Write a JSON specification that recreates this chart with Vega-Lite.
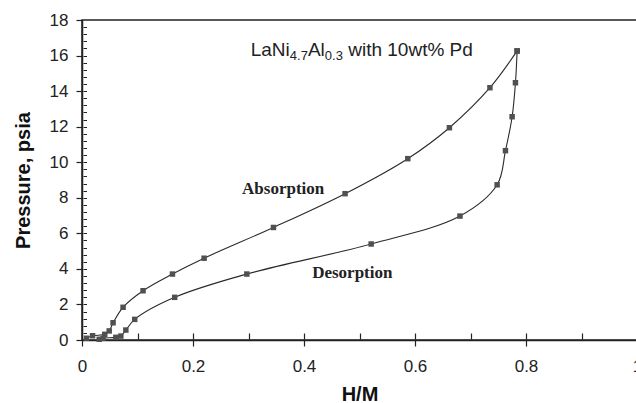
{
  "$schema": "https://vega.github.io/schema/vega-lite/v6.json",
  "width": 555,
  "height": 320,
  "autosize": "none",
  "padding": {"left": 82, "top": 20, "right": 0, "bottom": 63},
  "background": "white",
  "config": {
    "font": "Liberation Sans",
    "view": {"stroke": "#222", "strokeWidth": 1.5}
  },
  "datasets": {
    "curves": [
      {"series": "Absorption", "step": 1, "hm": 0.008, "p": 0.10},
      {"series": "Absorption", "step": 2, "hm": 0.019, "p": 0.24},
      {"series": "Absorption", "step": 3, "hm": 0.041, "p": 0.32},
      {"series": "Absorption", "step": 4, "hm": 0.049, "p": 0.51},
      {"series": "Absorption", "step": 5, "hm": 0.056, "p": 0.97},
      {"series": "Absorption", "step": 6, "hm": 0.074, "p": 1.84},
      {"series": "Absorption", "step": 7, "hm": 0.110, "p": 2.77},
      {"series": "Absorption", "step": 8, "hm": 0.163, "p": 3.71},
      {"series": "Absorption", "step": 9, "hm": 0.220, "p": 4.60},
      {"series": "Absorption", "step": 10, "hm": 0.345, "p": 6.33},
      {"series": "Absorption", "step": 11, "hm": 0.474, "p": 8.23},
      {"series": "Absorption", "step": 12, "hm": 0.587, "p": 10.20},
      {"series": "Absorption", "step": 13, "hm": 0.662, "p": 11.94},
      {"series": "Absorption", "step": 14, "hm": 0.735, "p": 14.19},
      {"series": "Absorption", "step": 15, "hm": 0.784, "p": 16.26},
      {"series": "Desorption", "step": 1, "hm": 0.784, "p": 16.26},
      {"series": "Desorption", "step": 2, "hm": 0.781, "p": 14.47},
      {"series": "Desorption", "step": 3, "hm": 0.775, "p": 12.56},
      {"series": "Desorption", "step": 4, "hm": 0.763, "p": 10.65},
      {"series": "Desorption", "step": 5, "hm": 0.748, "p": 8.73},
      {"series": "Desorption", "step": 6, "hm": 0.681, "p": 6.97},
      {"series": "Desorption", "step": 7, "hm": 0.521, "p": 5.40},
      {"series": "Desorption", "step": 8, "hm": 0.297, "p": 3.71},
      {"series": "Desorption", "step": 9, "hm": 0.167, "p": 2.40},
      {"series": "Desorption", "step": 10, "hm": 0.095, "p": 1.16},
      {"series": "Desorption", "step": 11, "hm": 0.079, "p": 0.56},
      {"series": "Desorption", "step": 12, "hm": 0.070, "p": 0.22},
      {"series": "Desorption", "step": 13, "hm": 0.061, "p": 0.15},
      {"series": "Desorption", "step": 14, "hm": 0.038, "p": 0.10},
      {"series": "Desorption", "step": 15, "hm": 0.031, "p": 0.04}
    ],
    "labels": [
      {"label": "Absorption", "hm": 0.3625, "p": 8.24},
      {"label": "Desorption", "hm": 0.487, "p": 3.46}
    ],
    "caption": [
      {"hm": 0.304, "p": 16.0}
    ]
  },
  "layer": [
    {
      "data": {"name": "curves"},
      "mark": {"type": "line", "interpolate": "catmull-rom", "stroke": "#2a2a2a", "strokeWidth": 1.1},
      "encoding": {
        "x": {
          "field": "hm", "type": "quantitative",
          "scale": {"domain": [0, 1], "nice": false, "zero": false},
          "axis": {
            "orient": "bottom",
            "title": "H/M",
            "titleFontSize": 20, "titleFontWeight": "bold", "titleColor": "#111",
            "titlePadding": 10,
            "values": [0, 0.2, 0.4, 0.6, 0.8, 1],
            "format": "~g",
            "labelFontSize": 17, "labelColor": "#222", "labelPadding": 12,
            "labelFlush": false, "labelOverlap": false,
            "tickSize": 6, "tickColor": "#222", "tickWidth": 1.2,
            "domainColor": "#222", "domainWidth": 1.5,
            "grid": false
          }
        },
        "y": {
          "field": "p", "type": "quantitative",
          "scale": {"domain": [0, 18], "nice": false, "zero": false},
          "axis": {
            "orient": "left",
            "title": "Pressure, psia",
            "titleFontSize": 20, "titleFontWeight": "bold", "titleColor": "#111",
            "titlePadding": 16,
            "values": [0, 2, 4, 6, 8, 10, 12, 14, 16, 18],
            "format": "d",
            "labelFontSize": 17, "labelColor": "#222", "labelPadding": 8,
            "labelFlush": false, "labelOverlap": false,
            "tickSize": 6, "tickColor": "#222", "tickWidth": 1.2,
            "domainColor": "#222", "domainWidth": 1.5,
            "grid": false
          }
        },
        "detail": {"field": "series", "type": "nominal"},
        "order": {"field": "step", "type": "quantitative"}
      }
    },
    {
      "data": {"name": "curves"},
      "mark": {"type": "point", "opacity": 0},
      "encoding": {
        "x": {
          "field": "hm", "type": "quantitative",
          "axis": {
            "orient": "top", "offset": -319, "title": "H/M", "titleColor": "white", "titleFontSize": 1,
            "labels": true, "labelColor": "white", "labelFontSize": 1, "domain": false, "grid": false,
            "values": [0.1, 0.2, 0.3, 0.4, 0.5, 0.6, 0.7, 0.8, 0.9],
            "tickSize": 6, "tickColor": "#222", "tickWidth": 1.2
          }
        },
        "y": {
          "field": "p", "type": "quantitative",
          "axis": {
            "orient": "right", "offset": -554, "title": "Pressure, psia", "titleColor": "white", "titleFontSize": 1,
            "labels": true, "labelColor": "white", "labelFontSize": 1, "domain": false, "grid": false,
            "values": [0.4, 0.8, 1.2, 1.6, 2, 2.4, 2.8, 3.2, 3.6, 4, 4.4, 4.8, 5.2, 5.6, 6, 6.4, 6.8, 7.2, 7.6, 8, 8.4, 8.8, 9.2, 9.6, 10, 10.4, 10.8, 11.2, 11.6, 12, 12.4, 12.8, 13.2, 13.6, 14, 14.4, 14.8, 15.2, 15.6, 16, 16.4, 16.8, 17.2, 17.6],
            "tickSize": 3.5, "tickColor": "#222", "tickWidth": 1
          }
        }
      }
    },
    {
      "data": {"name": "curves"},
      "mark": {"type": "point", "shape": "square", "filled": true, "size": 30, "color": "#505050", "opacity": 1},
      "encoding": {
        "x": {"field": "hm", "type": "quantitative", "axis": null},
        "y": {"field": "p", "type": "quantitative", "axis": null}
      }
    },
    {
      "data": {"name": "labels"},
      "mark": {"type": "text", "font": "Liberation Serif", "fontWeight": "bold", "fontSize": 17, "align": "center", "baseline": "alphabetic", "color": "#222"},
      "encoding": {
        "x": {"field": "hm", "type": "quantitative", "axis": null},
        "y": {"field": "p", "type": "quantitative", "axis": null},
        "text": {"field": "label"}
      }
    },
    {
      "data": {"name": "caption"},
      "mark": {"type": "text", "fontSize": 19, "align": "left", "baseline": "alphabetic", "color": "#222", "text": "LaNi"},
      "encoding": {
        "x": {"field": "hm", "type": "quantitative", "axis": null},
        "y": {"field": "p", "type": "quantitative", "axis": null}
      }
    },
    {
      "data": {"name": "caption"},
      "mark": {"type": "text", "fontSize": 13, "align": "left", "baseline": "alphabetic", "color": "#222", "text": "4.7", "dx": 39.1, "dy": 4},
      "encoding": {
        "x": {"field": "hm", "type": "quantitative", "axis": null},
        "y": {"field": "p", "type": "quantitative", "axis": null}
      }
    },
    {
      "data": {"name": "caption"},
      "mark": {"type": "text", "fontSize": 19, "align": "left", "baseline": "alphabetic", "color": "#222", "text": "Al", "dx": 57.2},
      "encoding": {
        "x": {"field": "hm", "type": "quantitative", "axis": null},
        "y": {"field": "p", "type": "quantitative", "axis": null}
      }
    },
    {
      "data": {"name": "caption"},
      "mark": {"type": "text", "fontSize": 13, "align": "left", "baseline": "alphabetic", "color": "#222", "text": "0.3", "dx": 74.1, "dy": 4},
      "encoding": {
        "x": {"field": "hm", "type": "quantitative", "axis": null},
        "y": {"field": "p", "type": "quantitative", "axis": null}
      }
    },
    {
      "data": {"name": "caption"},
      "mark": {"type": "text", "fontSize": 19, "align": "left", "baseline": "alphabetic", "color": "#222", "text": "with 10wt% Pd", "dx": 97.5},
      "encoding": {
        "x": {"field": "hm", "type": "quantitative", "axis": null},
        "y": {"field": "p", "type": "quantitative", "axis": null}
      }
    }
  ],
  "resolve": {"axis": {"x": "independent", "y": "independent"}}
}
